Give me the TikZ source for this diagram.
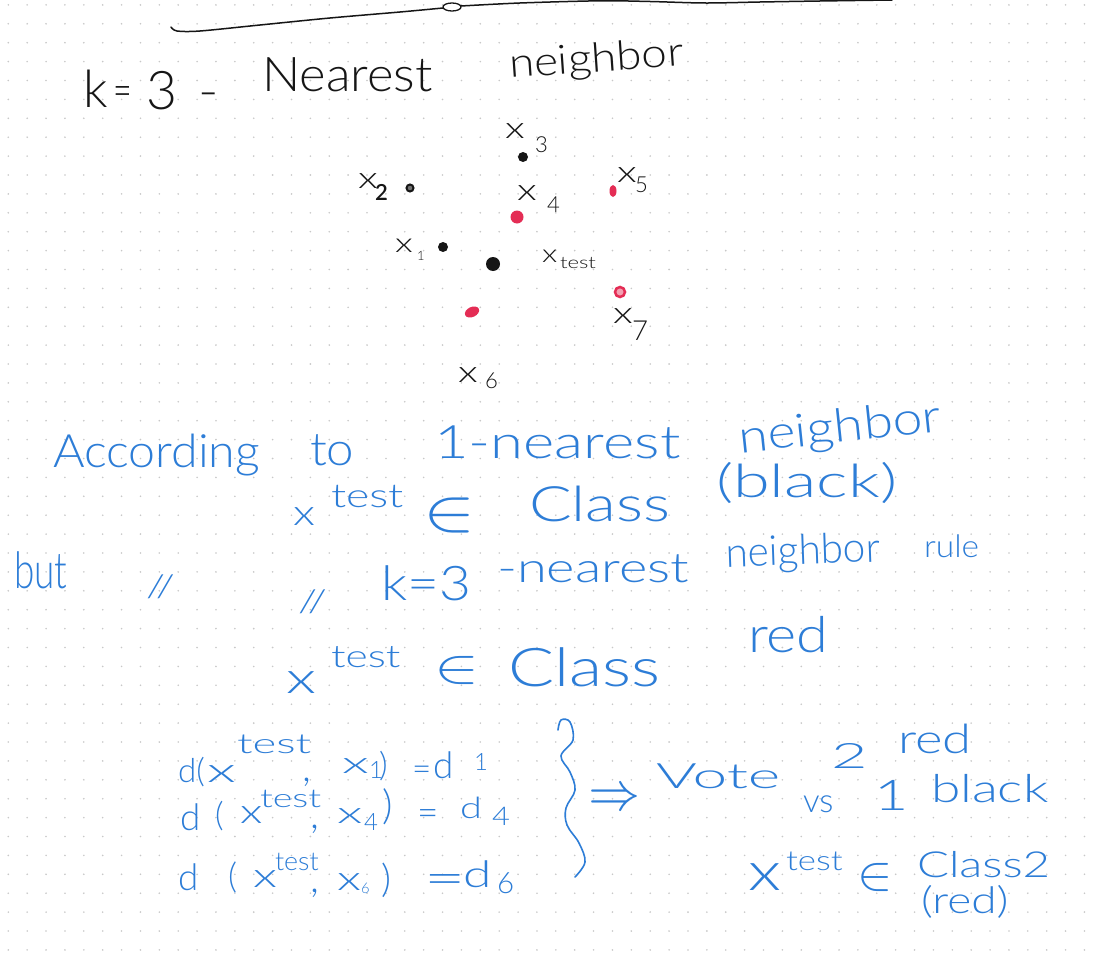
\documentclass[tikz,border=0pt]{standalone}
\usepackage{fontspec}
\usepackage{unicode-math}
\setmathfont{Latin Modern Math}
\newfontfamily\handfont{Lato Light}
\usepackage{graphicx}
\usetikzlibrary{shapes.geometric}
\definecolor{penblue}{RGB}{45,125,215}
\definecolor{penred}{RGB}{228,45,85}
\definecolor{ink}{RGB}{22,22,22}
\definecolor{griddot}{RGB}{200,200,200}
\newcommand\hw[3]{\scalebox{#2}[1]{\fontsize{\fpeval{0.92*#1}}{#1}\selectfont #3}}
\newcommand\hm[3]{\scalebox{#2}[1]{\fontsize{#1}{#1}\selectfont #3}}
\newcommand\hx[2]{\scalebox{#2}[1]{\fontsize{#1}{#1}\selectfont x}}
\begin{document}
\begin{tikzpicture}[x=1pt,y=-1pt,
  tx/.style={inner sep=0pt,outer sep=0pt,anchor=base west,font=\handfont},
  bl/.style={tx,text=penblue},
  bk/.style={tx,text=ink},
  bdot/.style={circle,fill=ink,inner sep=0pt},
  rdot/.style={ellipse,fill=penred,inner sep=0pt},
  pen/.style={line width=1.6pt,line cap=round,line join=round}]
\useasboundingbox (0,0) rectangle (1100,958);
\fill[white] (0,0) rectangle (1100,958);
% dotted paper
\foreach \i in {0,...,58}{
  \foreach \j in {0,...,50}{
    \fill[griddot] ({8.3+18.88*\i},{4.9+18.9*\j}) circle (0.9);
  }
}
% top stroke
\draw[pen,ink,line width=1.5pt] plot[smooth] coordinates {(171,27) (177,31) (200,31) (260,25) (330,18) (400,12) (443,8)};
\draw[ink,line width=1.3pt] (452,7) ellipse (9 and 4);
\draw[pen,ink,line width=1.5pt] plot[smooth] coordinates {(461,6) (520,3) (600,0.8) (650,1.5) (705,3) (760,2) (820,1) (892,0)};

% title
\node[bk] (tk) at (83,107) {\hw{56}{1}{k}};
\node[bk] (teq) at (113,106) {\hw{50}{0.7}{=}};
\node[bk] (t3) at (146,110) {\hw{58}{1}{3}};
\node[bk] (tdash) at (198,107) {\hw{50}{1.2}{-}};
\node[bk] (tnear) at (262,92) {\hw{52}{1.06}{Nearest}};
\node[bk,rotate=4] (tneigh) at (510,78) {\hw{44}{1.13}{neighbor}};

% scatter points
\node[bdot,minimum size=10] (p3) at (523,157) {};
\node[circle,draw=ink,fill=ink!60,line width=2pt,inner sep=0pt,minimum size=7] (p2) at (410,188) {};
\node[rdot,minimum width=13,minimum height=13] (p4) at (517,217) {};
\node[rdot,minimum width=7,minimum height=12] (p5) at (613,191) {};
\node[bdot,minimum size=10] (p1) at (443,247) {};
\node[bdot,minimum size=14] (ptest) at (493,264) {};
\node[circle,draw=penred,fill=penred!45,line width=2.5pt,inner sep=0pt,minimum size=10] (p7) at (620,292) {};
\node[rdot,minimum width=15,minimum height=10,rotate=25] (p6) at (472,312) {};

% point labels
\node[bk] (l3x) at (505,138) {\hx{30}{1.4}};
\node[bk] (l3n) at (535,152) {\hw{24}{1}{3}};
\node[bk] (l2x) at (358,188) {\hx{30}{1.4}};
\node[bk] (l2n) at (375,200) {\hw{24}{1}{\bfseries 2}};
\node[bk] (l4x) at (517,200) {\hx{30}{1.4}};
\node[bk] (l4n) at (547,212) {\hw{24}{1}{4}};
\node[bk] (l5x) at (617,182) {\hx{30}{1.4}};
\node[bk] (l5n) at (635,192) {\hw{24}{1}{5}};
\node[bk] (l1x) at (395,252) {\hx{27}{1.4}};
\node[bk] (l1n) at (417,260) {\hw{14}{1}{1}};
\node[bk] (ltx) at (542,262) {\hx{25}{1.3}};
\node[bk] (ltt) at (560,268) {\hw{18}{1.33}{test}};
\node[bk] (l7x) at (613,323) {\hx{30}{1.4}};
\node[bk] (l7n) at (632,340) {\hw{30}{1}{7}};
\node[bk] (l6x) at (458,382) {\hx{30}{1.4}};
\node[bk] (l6n) at (485,388) {\hw{24}{1}{6}};

% line A
\node[bl] (a1) at (53,467) {\hw{50}{1.05}{According}};
\node[bl] (a2) at (310,465) {\hw{50}{1.07}{to}};
\node[bl] (a3) at (434,458) {\hw{50}{1.3}{1-nearest}};
\node[bl,rotate=6] (a4) at (740,453) {\hw{50}{1.16}{neighbor}};

% line B
\node[bl] (b1) at (293,525) {\hx{36}{1.3}};
\node[bl] (b2) at (331,507) {\hw{36}{1.34}{test}};
\node[bl] (b3) at (423,530) {\hm{60}{1.3}{$\in$}};
\node[bl] (b4) at (529,521) {\hw{53}{1.3}{Class}};
\node[bl] (b5) at (716,497) {\hw{50}{1.45}{(black)}};

% line C
\node[bl] (c1) at (14,588) {\hw{55}{0.73}{but}};
\node[bl] (c2) at (146,597) {\hw{34}{1.4}{//}};
\node[bl] (c3) at (298,612) {\hw{34}{1.4}{//}};
\node[bl] (c4) at (381,600) {\hw{52}{1.15}{k=3}};
\node[bl] (c5) at (497,582) {\hw{45}{1.31}{-nearest}};
\node[bl,rotate=2] (c6) at (726,567) {\hw{45}{0.98}{neighbor}};
\node[bl] (c7) at (924,557) {\hw{34}{1.07}{rule}};

% line D
\node[bl] (d1) at (286,693) {\hx{44}{1.45}};
\node[bl] (d2) at (331,667) {\hw{34}{1.36}{test}};
\node[bl] (d3) at (434,682) {\hm{48}{1.4}{$\in$}};
\node[bl] (d4) at (508,686) {\hw{58}{1.28}{Class}};
\node[bl] (d5) at (748,652) {\hw{54}{1.16}{red}};

% distance rows
\node[bl] (r1a) at (178,782) {\hw{36}{1}{d(}};
\node[bl] (r1b) at (207,782) {\hx{34}{1.8}};
\node[bl] (r1c) at (237,753) {\hw{30}{1.65}{test}};
\node[bl] (r1d) at (302,781) {\hw{44}{1}{,}};
\node[bl] (r1e) at (342,773) {\hx{30}{1.9}};
\node[bl] (r1f) at (369,778) {\hw{26}{1}{1}};
\node[bl] (r1g) at (379,776) {\hw{36}{1}{)}};
\node[bl] (r1h) at (412,780) {\hw{36}{1}{=}};
\node[bl] (r1i) at (433,778) {\hw{40}{1}{d}};
\node[bl] (r1j) at (474,770) {\hw{26}{1}{1}};

\node[bl] (r2a) at (180,830) {\hw{40}{1}{d}};
\node[bl] (r2b) at (215,826) {\hw{36}{1}{(}};
\node[bl] (r2c) at (240,823) {\hx{34}{1.4}};
\node[bl] (r2d) at (260,807) {\hw{28}{1.46}{test}};
\node[bl] (r2e) at (310,828) {\hw{44}{1}{,}};
\node[bl] (r2f) at (337,823) {\hx{30}{1.8}};
\node[bl] (r2g) at (364,830) {\hw{26}{1}{4}};
\node[bl] (r2h) at (382,819) {\hw{44}{1}{)}};
\node[bl] (r2i) at (417,825) {\hw{40}{1}{=}};
\node[bl] (r2j) at (460,818) {\hw{32}{1.35}{d}};
\node[bl] (r2k) at (492,825) {\hw{28}{1.2}{4}};

\node[bl] (r3a) at (178,890) {\hw{40}{1}{d}};
\node[bl] (r3b) at (228,888) {\hw{38}{1}{(}};
\node[bl] (r3c) at (253,887) {\hx{34}{1.5}};
\node[bl] (r3d) at (275,870) {\hw{28}{1.04}{test}};
\node[bl] (r3e) at (310,892) {\hw{44}{1}{,}};
\node[bl] (r3f) at (337,890) {\hx{34}{1.5}};
\node[bl] (r3g) at (361,893) {\hw{16}{1}{6}};
\node[bl] (r3h) at (381,892) {\hw{42}{1}{)}};
\node[bl] (r3i) at (424,894) {\hw{50}{1.55}{=}};
\node[bl] (r3j) at (463,887) {\hw{40}{1.4}{d}};
\node[bl] (r3k) at (497,893) {\hw{32}{1}{6}};

% brace
\draw[pen,penblue] plot[smooth,tension=0.6] coordinates {(558,730) (561,720) (570,722) (573,740) (561,756) (570,772) (575,790) (566,808) (567,825) (579,843) (585,862) (575,877)};

% vote
\node[bl] (v1) at (588,810) {\hm{56}{0.93}{$\Rightarrow$}};
\node[bl] (v2) at (656,788) {\hw{38}{1.78}{Vote}};
\node[bl] (v3) at (831,768) {\hw{38}{1.8}{2}};
\node[bl] (v4) at (898,753) {\hw{44}{1.3}{red}};
\node[bl] (v5) at (803,812) {\hw{36}{1}{vs}};
\node[bl] (v6) at (874,810) {\hw{46}{1.4}{1}};
\node[bl] (v7) at (931,802) {\hw{42}{1.38}{black}};
\node[bl] (w1) at (748,890) {\hx{54}{1.3}};
\node[bl] (w2) at (786,870) {\hw{30}{1.26}{test}};
\node[bl] (w3) at (857,889) {\hm{48}{1.1}{$\in$}};
\node[bl] (w4) at (917,877) {\hw{39}{1.32}{Class2}};
\node[bl] (w5) at (921,913) {\hw{40}{1.25}{(red)}};
\end{tikzpicture}
\end{document}
